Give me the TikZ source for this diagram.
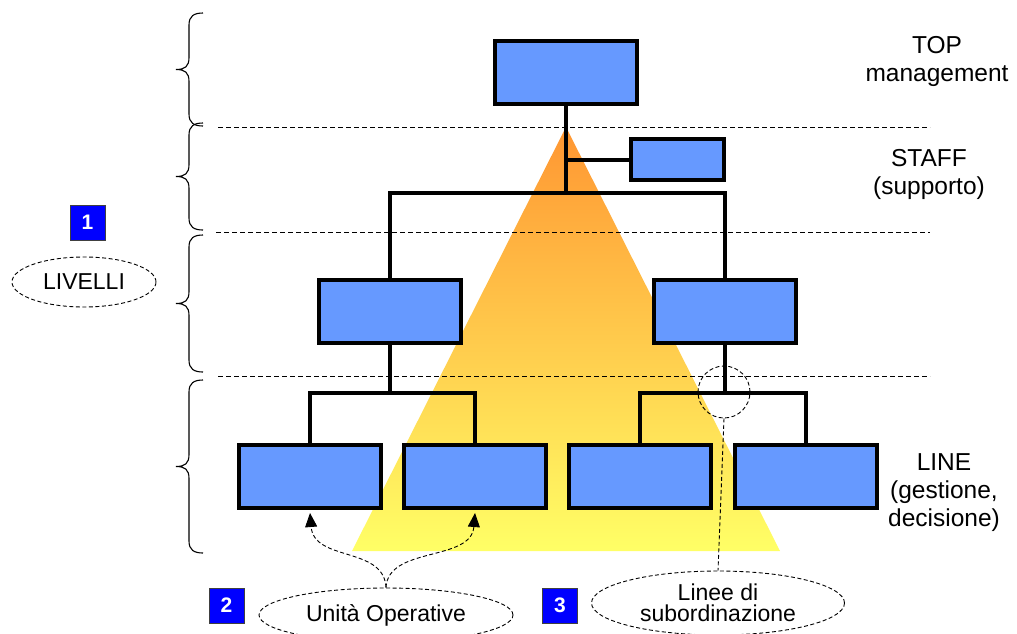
\documentclass[tikz,border=0pt]{standalone}
\usepackage{fontspec}
\setmainfont{Liberation Sans}
\usetikzlibrary{shapes.geometric,arrows.meta}

\definecolor{unitblue}{RGB}{102,153,255}
\definecolor{badgeblue}{RGB}{0,0,255}
\definecolor{apexorange}{RGB}{255,150,50}
\definecolor{baseyellow}{RGB}{255,255,102}

\tikzset{
  unit/.style={draw=black, line width=4pt, fill=unitblue, inner sep=0pt,
               minimum width=142pt, minimum height=63pt},
  staffunit/.style={unit, minimum width=93pt, minimum height=41pt},
  link/.style={line width=4pt, line join=miter},
  levelline/.style={line width=1pt, dash pattern=on 5pt off 3pt},
  bracket/.style={line width=1.1pt},
  tag/.style={ellipse, draw, line width=0.9pt, dash pattern=on 4pt off 2.5pt,
              inner sep=0pt, align=center, font=\fontsize{23}{21.5}\selectfont},
  pointer/.style={line width=0.9pt, dash pattern=on 4pt off 2.5pt,
                  -{Triangle[length=14pt,width=12pt]}},
  badge/.style={fill=badgeblue, draw=black!75, line width=1pt, minimum size=35pt,
                inner sep=0pt, text=white, font=\bfseries\fontsize{21}{21}\selectfont},
  levelname/.style={align=center, inner sep=0pt, font=\fontsize{24.5}{28}\selectfont}
}

% left curly brace with its tip pointing left: #1 top, #2 bottom
\newcommand{\levelbrace}[2]{%
  \pgfmathsetmacro{\bmid}{(#1+#2)/2}%
  \draw[bracket] (203,#1) .. controls (194,#1) and (189,#1+3) .. (189,#1+12)
    -- (189,\bmid-12) .. controls (189,\bmid-3) and (185,\bmid) .. (176,\bmid)
    .. controls (185,\bmid) and (189,\bmid+3) .. (189,\bmid+12)
    -- (189,#2-12) .. controls (189,#2-3) and (194,#2) .. (203,#2);}

\begin{document}
\begin{tikzpicture}[x=1pt,y=-1pt]
\useasboundingbox (0,0) rectangle (1017,633);

% hierarchy cone
\shade[top color=apexorange, bottom color=baseyellow]
  (566,127) -- (352,551) -- (780,551) -- cycle;

% separations between levels
\draw[levelline] (218,127) -- (930,127);
\draw[levelline] (216,232) -- (930,232);
\draw[levelline] (218,376) -- (930,376);

% braces grouping the levels
\levelbrace{13}{126}
\levelbrace{123}{230}
\levelbrace{235}{372}
\levelbrace{380}{553}

% organisation units
\node[unit] (T) at (566,72.5) {};
\node[staffunit] (S) at (677.5,159.5) {};
\node[unit] (ML) at (390,311) {};
\node[unit] (MR) at (724.5,311) {};
\node[unit] (B1) at (310,476.5) {};
\node[unit] (B2) at (475,476.5) {};
\node[unit] (B3) at (640,476.5) {};
\node[unit] (B4) at (805.5,476.5) {};

% reporting lines
\coordinate (J) at (566,193);
\coordinate (JL) at (390,393);
\coordinate (JR) at (724.5,393);
\draw[link] (T.south) -- (J);
\draw[link] (S.west) -- (S.west -| J);
\draw[link] (ML.north) |- (J) -| (MR.north);
\draw[link] (ML.south) -- (JL);
\draw[link] (B1.north) |- (JL) -| (B2.north);
\draw[link] (MR.south) -- (JR);
\draw[link] (B3.north) |- (JR) -| (B4.north);

% level names
\node[levelname] (top) at (937,61) {TOP\\management};
\node[levelname] (staff) at (929,174) {STAFF\\(supporto)};
\node[levelname] (line) at (944,493) {LINE\\(gestione,\\decisione)};

% annotations
\node[badge] (n1) at (87.5,222.5) {1};
\node[tag, minimum width=144pt, minimum height=50pt] (lv) at (84,282) {LIVELLI};

\node[badge] (n2) at (226.5,605.5) {2};
\node[tag, minimum width=254pt, minimum height=54pt] (uo) at (386,615) {Unità Operative};
\draw[pointer] (uo.north) .. controls (384,546) and (314,562) .. ([yshift=-3pt]B1.south);
\draw[pointer] (uo.north) .. controls (388,546) and (471,562) .. ([yshift=-3pt]B2.south);

\node[badge] (n3) at (560,605.5) {3};
\node[tag, minimum width=253pt, minimum height=64pt] (ls) at (718,603) {Linee di\\subordinazione};
\node[circle, draw, line width=0.9pt, dash pattern=on 4pt off 2.5pt,
      minimum size=52pt, inner sep=0pt] (ring) at (724,392) {};
\draw[line width=0.9pt, dash pattern=on 4pt off 2.5pt] (ring.south) -- (ls.north);

\end{tikzpicture}
\end{document}
